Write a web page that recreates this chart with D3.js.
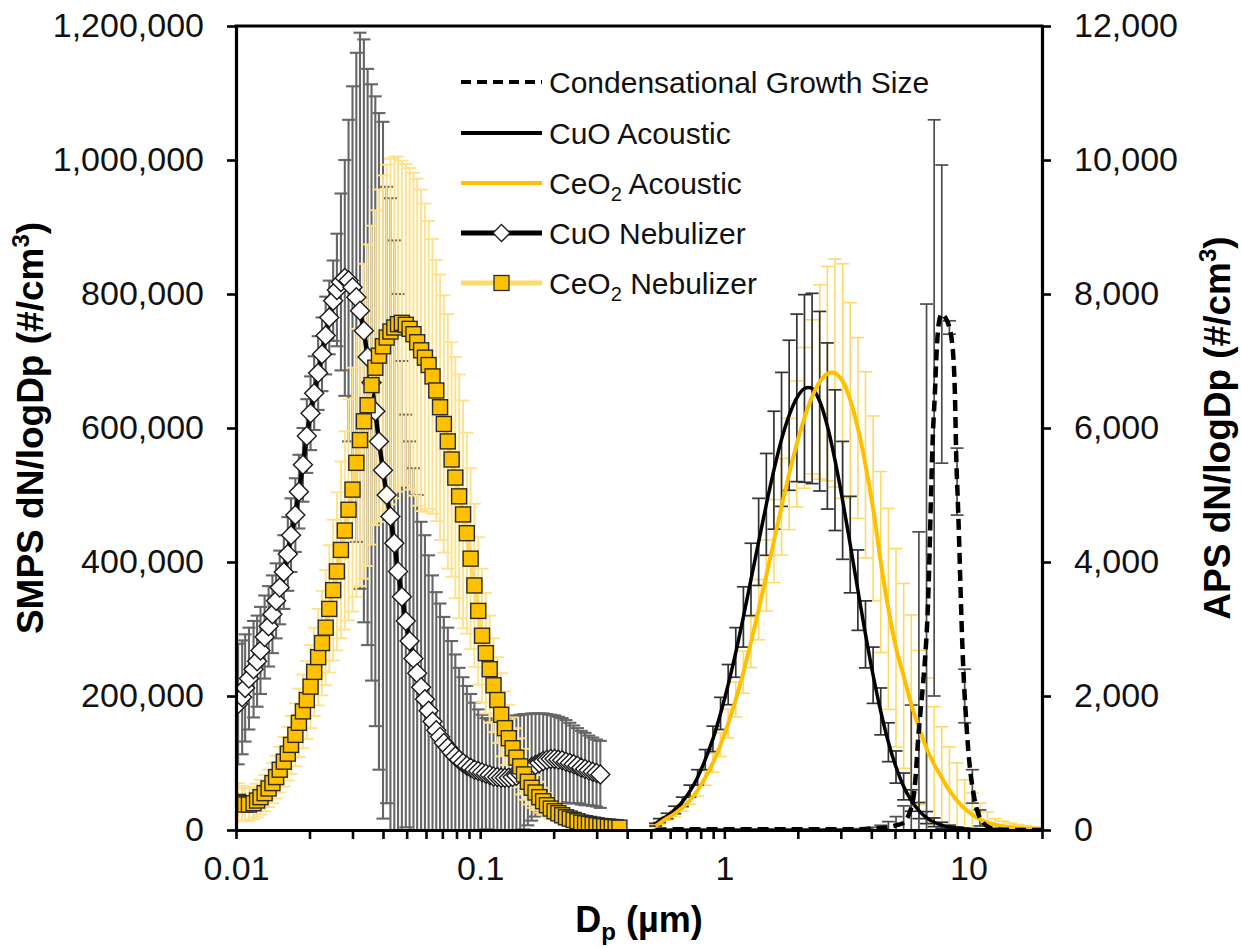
<!DOCTYPE html>
<html><head><meta charset="utf-8">
<script src="https://cdn.jsdelivr.net/npm/d3@7"></script>
<style>
html,body{margin:0;padding:0;background:#fff;}
svg{display:block;font-family:"Liberation Sans",Arial,Helvetica,sans-serif;}
</style></head><body>
<svg id="chart" width="1241" height="948"></svg>
<script>
// ---- SMPS channel midpoints (µm) ----
const smpsDiameters = [0.0102,0.0106,0.0109,0.0113,0.0118,0.0122,0.0126,0.0131,0.0136,0.0141,
  0.0146,0.0151,0.0157,0.0163,0.0168,0.0175,0.0181,0.0188,0.0195,0.0202,
  0.0209,0.0217,0.0225,0.0233,0.0241,0.0250,0.0259,0.0269,0.0279,0.0289,
  0.0300,0.0311,0.0322,0.0334,0.0346,0.0359,0.0372,0.0385,0.0400,0.0414,
  0.0429,0.0445,0.0461,0.0478,0.0496,0.0514,0.0533,0.0552,0.0573,0.0594,
  0.0615,0.0638,0.0661,0.0685,0.0710,0.0737,0.0764,0.0791,0.0820,0.0851,
  0.0882,0.0914,0.0947,0.0982,0.1018,0.1055,0.1094,0.1134,0.1176,0.1219,
  0.1263,0.1310,0.1358,0.1407,0.1459,0.1512,0.1568,0.1625,0.1685,0.1747,
  0.1811,0.1877,0.1946,0.2017,0.2091,0.2167,0.2247,0.2329,0.2414,0.2503,
  0.2595,0.2690,0.2788,0.2890,0.2996,0.3106,0.3220,0.3338,0.3460,0.3587,
  0.3718,0.3854];

// CuO nebulizer, SMPS dN/logDp (#/cm3): mean and standard deviation
const cuoNebMean = [188000,198000,212000,226000,240000,252000,268000,288000,304000,322000,
  342000,362000,385000,412000,440000,470000,505000,545000,588000,622000,
  652000,682000,710000,738000,765000,790000,806000,818000,824000,820000,
  810000,795000,775000,745000,706000,668000,625000,580000,537000,500000,
  468000,428000,386000,348000,312000,282000,256000,234000,213000,195000,
  178000,162000,149000,139000,130000,123000,116000,110000,105000,100000,
  96000,93000,90000,88000,86000,84000,82000,80000,79000,78000,
  78000,78000,79000,81000,84000,87000,90000,94000,97000,100000,
  103000,105000,106000,106000,105000,104000,102000,100000,98000,96000,
  93000,91000,89000,87000,85000,83000];
const cuoNebSD = [90000,85000,80000,76000,72000,68000,65000,62000,60000,58000,
  56000,55000,55000,55000,55000,55000,55000,55000,55000,55000,
  55000,55000,55000,58000,55000,60000,84000,132000,176000,240000,
  300000,365000,415000,435000,430000,445000,470000,490000,520000,460000,
  475000,452000,414000,352000,308000,298000,284000,266000,247000,245000,
  232000,218000,206000,199000,188000,179000,166000,152000,137000,128000,
  119000,110000,100000,92000,86000,83000,83000,84000,86000,88000,
  89000,90000,91000,90000,88000,86000,83000,80000,77000,74000,
  71000,68000,66000,65000,64000,63000,62000,60000,58000,56000,
  55000,54000,52000,51000,50000,50000];

// CeO2 nebulizer, SMPS dN/logDp (#/cm3)
const ceo2NebMean = [42000,40000,38000,38000,40000,44000,49000,55000,62000,70000,
  79000,90000,102000,114000,127000,142000,160000,177000,194000,214000,
  236000,258000,279000,302000,330000,358000,386000,418000,447000,478000,
  508000,548000,582000,610000,634000,664000,690000,708000,722000,735000,
  744000,750000,755000,757000,754000,748000,740000,728000,716000,705000,
  694000,677000,656000,631000,606000,580000,553000,526000,498000,471000,
  443000,405000,365000,327000,290000,264000,240000,216000,194000,172000,
  152000,137000,122000,108000,95000,83000,72000,63000,56000,49000,
  43000,37000,32000,28000,25000,22000,19000,17000,15000,13000,
  11000,10000,9000,8000,7000,6000,5500,5000,4500,4000,
  3500];
const ceo2NebSD = [28000,26000,25000,24000,24000,25000,26000,27000,28000,30000,
  32000,34000,37000,40000,43000,47000,51000,55000,58000,62000,
  66000,72000,78000,86000,95000,105000,118000,132000,148000,165000,
  182000,200000,218000,235000,240000,238000,235000,248000,255000,258000,
  258000,255000,250000,242000,240000,240000,241000,244000,240000,230000,
  215000,205000,195000,198000,192000,190000,175000,180000,182000,170000,
  150000,135000,122000,110000,100000,90000,80000,70000,64000,62000,
  55000,50000,46000,44000,42000,38000,34000,30000,26000,23000,
  20000,18000,16000,14000,12000,11000,10000,9000,8000,7000,
  6000,6000,5000,5000,4000,4000,4000,3000,3000,3000,
  3000];

// ---- APS channel midpoints (µm) ----
const apsDiameters = [0.523,0.542,0.583,0.626,0.673,0.723,0.777,0.835,0.898,0.965,
  1.037,1.114,1.197,1.286,1.382,1.486,1.596,1.715,1.843,1.981,
  2.129,2.288,2.458,2.642,2.839,3.051,3.278,3.523,3.786,4.068,
  4.371,4.698,5.048,5.425,5.829,6.264,6.732,7.234,7.774,8.354,
  8.977,9.647,10.37,11.14,11.97,12.86,13.82,14.86,15.96,17.15,
  18.43,19.81];

// CuO acoustic, APS dN/logDp (#/cm3)
const cuoAcMean = [80,140,210,300,420,580,785,1050,1360,1740,
  2170,2650,3180,3740,4300,4860,5370,5830,6190,6450,
  6590,6590,6400,6030,5520,4920,4260,3580,2920,2310,
  1770,1310,940,650,440,290,185,115,70,42,
  25,15,9,5,3,2,1,1,0,0,
  0,0];
const cuoAcSD = [20,30,40,55,70,90,115,150,190,240,
  300,370,450,540,650,760,880,1000,1120,1250,
  1400,1420,1340,1240,1050,880,720,600,500,420,
  350,290,240,200,160,120,90,65,45,30,
  20,12,8,5,3,2,1,1,0,0,
  0,0];

// CeO2 acoustic, APS dN/logDp (#/cm3)
const ceo2AcMean = [60,100,175,243,332,447,592,779,1001,1272,
  1587,1948,2356,2805,3288,3799,4311,4824,5314,5763,
  6152,6465,6688,6811,6820,6700,6420,6000,5450,4800,
  4000,3300,2720,2300,1880,1530,1220,980,780,590,
  440,320,230,160,110,80,58,42,31,22,
  16,11];
const ceo2AcSD = [15,20,30,40,50,65,85,110,140,175,
  215,260,315,380,450,530,620,720,830,940,
  1050,1150,1450,1600,1700,1750,1450,1350,1390,1380,
  1350,1500,1480,1380,1330,1150,1050,860,760,650,
  560,430,320,240,160,90,75,62,50,40,
  30,22];

// Condensational growth size, APS dN/logDp (#/cm3)
const growthMean = [0,5,8,10,10,10,10,10,10,10,
  10,10,10,10,10,10,10,10,10,10,
  10,10,10,10,10,10,10,12,15,20,
  30,45,70,110,330,1500,2900,6300,7700,7500,
  5200,2000,650,180,50,12,5,2,1,0,
  0,0];
const growthSD = [0,3,4,5,5,5,5,5,5,5,
  5,5,5,5,5,5,5,5,5,5,
  5,5,5,5,5,5,5,8,12,20,
  40,80,130,250,1535,2950,4950,4300,2225,100,
  500,400,250,120,40,15,5,2,1,0,
  0,0];

// ---- axis ticks and labels ----
const leftTicks = [0,200000,400000,600000,800000,1000000,1200000];
const rightTicks = [0,2000,4000,6000,8000,10000,12000];
const xMinorTicks = [0.01,0.02,0.03,0.04,0.05,0.06,0.07,0.08,0.09,
  0.1,0.2,0.3,0.4,0.5,0.6,0.7,0.8,0.9,
  1,2,3,4,5,6,7,8,9,10,20];
const xLabelTicks = [0.01,0.1,1,10];
const legendItems = ["Condensational Growth Size","CuO Acoustic","CeO2 Acoustic","CuO Nebulizer","CeO2 Nebulizer"];

// ---- layout ----
const plot = {left:236, right:1042, top:26, bottom:830};
const svg = d3.select("#chart");

const x = d3.scaleLog().domain([0.01,20]).range([plot.left, plot.right]);
const yL = d3.scaleLinear().domain([0,1200000]).range([plot.bottom, plot.top]);
const yR = d3.scaleLinear().domain([0,12000]).range([plot.bottom, plot.top]);

const colors = {
  cuoBar:"#666666", ceo2NebBar:"#ffe189", ceo2NebLine:"#ffd966",
  gold:"#ffc000", apsBlackBar:"#333333", apsGoldBar:"#ffd966", growthBar:"#4d4d4d"
};

svg.append("defs").append("clipPath").attr("id","plotClip")
  .append("rect").attr("x",plot.left).attr("y",plot.top)
  .attr("width",plot.right-plot.left).attr("height",plot.bottom-plot.top);

const layer = svg.append("g").attr("clip-path","url(#plotClip)");

function rows(dx, mean, sd){
  return mean.map((m,i)=>({d:dx[i], m:m, s:sd[i]}));
}
const cuoNeb = rows(smpsDiameters, cuoNebMean, cuoNebSD);
const ceo2Neb = rows(smpsDiameters, ceo2NebMean, ceo2NebSD);
const cuoAc = rows(apsDiameters, cuoAcMean, cuoAcSD);
const ceo2Ac = rows(apsDiameters, ceo2AcMean, ceo2AcSD);
const growth = rows(apsDiameters, growthMean, growthSD);

// vertical error bars (mean ± SD) with caps at both ends
function errorBars(data, yScale, color, width, cap){
  const g = layer.append("g").attr("stroke",color).attr("stroke-width",width).attr("fill","none");
  data.forEach(p=>{
    if(p.s<=0) return;
    const cx = x(p.d), y1 = yScale(p.m+p.s), y0 = yScale(p.m-p.s);
    g.append("line").attr("x1",cx).attr("x2",cx).attr("y1",y0).attr("y2",y1);
    g.append("line").attr("x1",cx-cap).attr("x2",cx+cap).attr("y1",y1).attr("y2",y1);
    g.append("line").attr("x1",cx-cap).attr("x2",cx+cap).attr("y1",y0).attr("y2",y0);
  });
}

// SMPS error bars
errorBars(cuoNeb, yL, colors.cuoBar, 2.1, 6.5);
errorBars(ceo2Neb, yL, colors.ceo2NebBar, 1.9, 6.5);

// CuO nebulizer: thick black line with open diamonds
const lineL = d3.line().x(p=>x(p.d)).y(p=>yL(p.m));
layer.append("path").datum(cuoNeb).attr("d",lineL)
  .attr("fill","none").attr("stroke","#000").attr("stroke-width",4.5).attr("stroke-linejoin","round");
const diamond = r => `M0,${-r}L${r},0L0,${r}L${-r},0Z`;
layer.append("g").selectAll("path").data(cuoNeb).join("path")
  .attr("transform",p=>`translate(${x(p.d)},${yL(p.m)})`)
  .attr("d",diamond(9.5)).attr("fill","#fff").attr("stroke","#1a1a1a").attr("stroke-width",1.4);

// CeO2 nebulizer: pale gold line with gold squares
layer.append("path").datum(ceo2Neb).attr("d",lineL)
  .attr("fill","none").attr("stroke",colors.ceo2NebLine).attr("stroke-width",5).attr("stroke-linejoin","round");
layer.append("g").selectAll("rect").data(ceo2Neb).join("rect")
  .attr("x",p=>x(p.d)-7.5).attr("y",p=>yL(p.m)-7.5).attr("width",15).attr("height",15)
  .attr("fill",colors.gold).attr("stroke","#2b2b2b").attr("stroke-width",1.4);

// APS error bars
errorBars(ceo2Ac, yR, colors.apsGoldBar, 1.6, 6.5);
errorBars(cuoAc, yR, colors.apsBlackBar, 1.7, 6.5);
errorBars(growth, yR, colors.growthBar, 1.7, 6.5);

// APS smoothed lines
const lineR = d3.line().x(p=>x(p.d)).y(p=>yR(p.m)).curve(d3.curveCatmullRom.alpha(0.5));
layer.append("path").datum(cuoAc).attr("d",lineR)
  .attr("fill","none").attr("stroke","#000").attr("stroke-width",3.5);
layer.append("path").datum(ceo2Ac).attr("d",lineR)
  .attr("fill","none").attr("stroke",colors.gold).attr("stroke-width",4);
layer.append("path").datum(growth).attr("d",lineR)
  .attr("fill","none").attr("stroke","#000").attr("stroke-width",4.5)
  .attr("stroke-dasharray","11,6");

// ---- axes ----
const fontTick = 34;
const axisL = svg.append("g").attr("transform",`translate(${plot.left},0)`)
  .call(d3.axisLeft(yL).tickValues(leftTicks).tickFormat(d3.format(",")).tickSizeInner(9).tickSizeOuter(0).tickPadding(23));
const axisR = svg.append("g").attr("transform",`translate(${plot.right},0)`)
  .call(d3.axisRight(yR).tickValues(rightTicks).tickFormat(d3.format(",")).tickSizeInner(9).tickSizeOuter(0).tickPadding(23));
const axisB = svg.append("g").attr("transform",`translate(0,${plot.bottom})`)
  .call(d3.axisBottom(x).tickValues(xMinorTicks)
    .tickFormat(d=> xLabelTicks.some(t=>Math.abs(t-d)<1e-9) ? d3.format("")(d) : "")
    .tickSizeInner(9).tickSizeOuter(0).tickPadding(17));
[axisL,axisR,axisB].forEach(a=>{
  a.select(".domain").attr("stroke","#000").attr("stroke-width",3.2);
  a.selectAll(".tick line").attr("stroke","#000").attr("stroke-width",2.6);
  a.selectAll(".tick text").attr("font-size",fontTick).attr("fill","#111")
    .attr("font-family",'"Liberation Sans",Arial,sans-serif');
});
// top border of plot area
svg.append("line").attr("x1",plot.left-1.5).attr("x2",plot.right+1.5)
  .attr("y1",plot.top).attr("y2",plot.top).attr("stroke","#000").attr("stroke-width",3.2);

// ---- axis titles ----
function titleWithSup(g, prefix){
  const t = g.append("text").attr("text-anchor","middle").attr("font-weight","bold")
    .attr("font-size",37).attr("fill","#000");
  t.append("tspan").text(prefix + " dN/logDp (#/cm");
  t.append("tspan").attr("font-size",24).attr("dy",-14).text("3");
  t.append("tspan").attr("dy",14).text(")");
  return t;
}
titleWithSup(svg.append("g").attr("transform",`translate(43,${(plot.top+plot.bottom)/2}) rotate(-90)`), "SMPS");
titleWithSup(svg.append("g").attr("transform",`translate(1230,${(plot.top+plot.bottom)/2}) rotate(-90)`), "APS");

const xt = svg.append("text").attr("x",(plot.left+plot.right)/2).attr("y",932)
  .attr("text-anchor","middle").attr("font-weight","bold").attr("font-size",36).attr("fill","#000");
xt.append("tspan").text("D");
xt.append("tspan").attr("font-size",24).attr("dy",8).text("p");
xt.append("tspan").attr("dy",-8).text(" (µm)");

// ---- legend ----
const lg = svg.append("g");
const lx0 = 461, lx1 = 542, ltx = 549;
const rowY = [82,133,183,233,283];
function legendText(y, label){
  const t = lg.append("text").attr("x",ltx).attr("y",y+11).attr("font-size",30).attr("fill","#111");
  const m = label.match(/^(.*Ce)O2(.*)$/);
  if(m){
    t.append("tspan").text(m[1]+"O");
    t.append("tspan").attr("font-size",20).attr("dy",7).text("2");
    t.append("tspan").attr("dy",-7).text(m[2]);
  } else t.text(label);
}
// condensational growth (dashed)
lg.append("line").attr("x1",lx0).attr("x2",lx1).attr("y1",rowY[0]).attr("y2",rowY[0])
  .attr("stroke","#000").attr("stroke-width",4).attr("stroke-dasharray","10,6");
// CuO acoustic
lg.append("line").attr("x1",lx0).attr("x2",lx1).attr("y1",rowY[1]).attr("y2",rowY[1])
  .attr("stroke","#000").attr("stroke-width",4);
// CeO2 acoustic
lg.append("line").attr("x1",lx0).attr("x2",lx1).attr("y1",rowY[2]).attr("y2",rowY[2])
  .attr("stroke",colors.gold).attr("stroke-width",4);
// CuO nebulizer
lg.append("line").attr("x1",lx0).attr("x2",lx1).attr("y1",rowY[3]).attr("y2",rowY[3])
  .attr("stroke","#000").attr("stroke-width",5);
lg.append("path").attr("transform",`translate(${(lx0+lx1)/2},${rowY[3]})`).attr("d",diamond(8.5))
  .attr("fill","#fff").attr("stroke","#1a1a1a").attr("stroke-width",1.3);
// CeO2 nebulizer
lg.append("line").attr("x1",lx0).attr("x2",lx1).attr("y1",rowY[4]).attr("y2",rowY[4])
  .attr("stroke",colors.ceo2NebLine).attr("stroke-width",5);
lg.append("rect").attr("x",(lx0+lx1)/2-7.5).attr("y",rowY[4]-7.5).attr("width",15).attr("height",15)
  .attr("fill",colors.gold).attr("stroke","#2b2b2b").attr("stroke-width",1.3);
legendItems.forEach((l,i)=>legendText(rowY[i], l));
</script>
</body></html>
